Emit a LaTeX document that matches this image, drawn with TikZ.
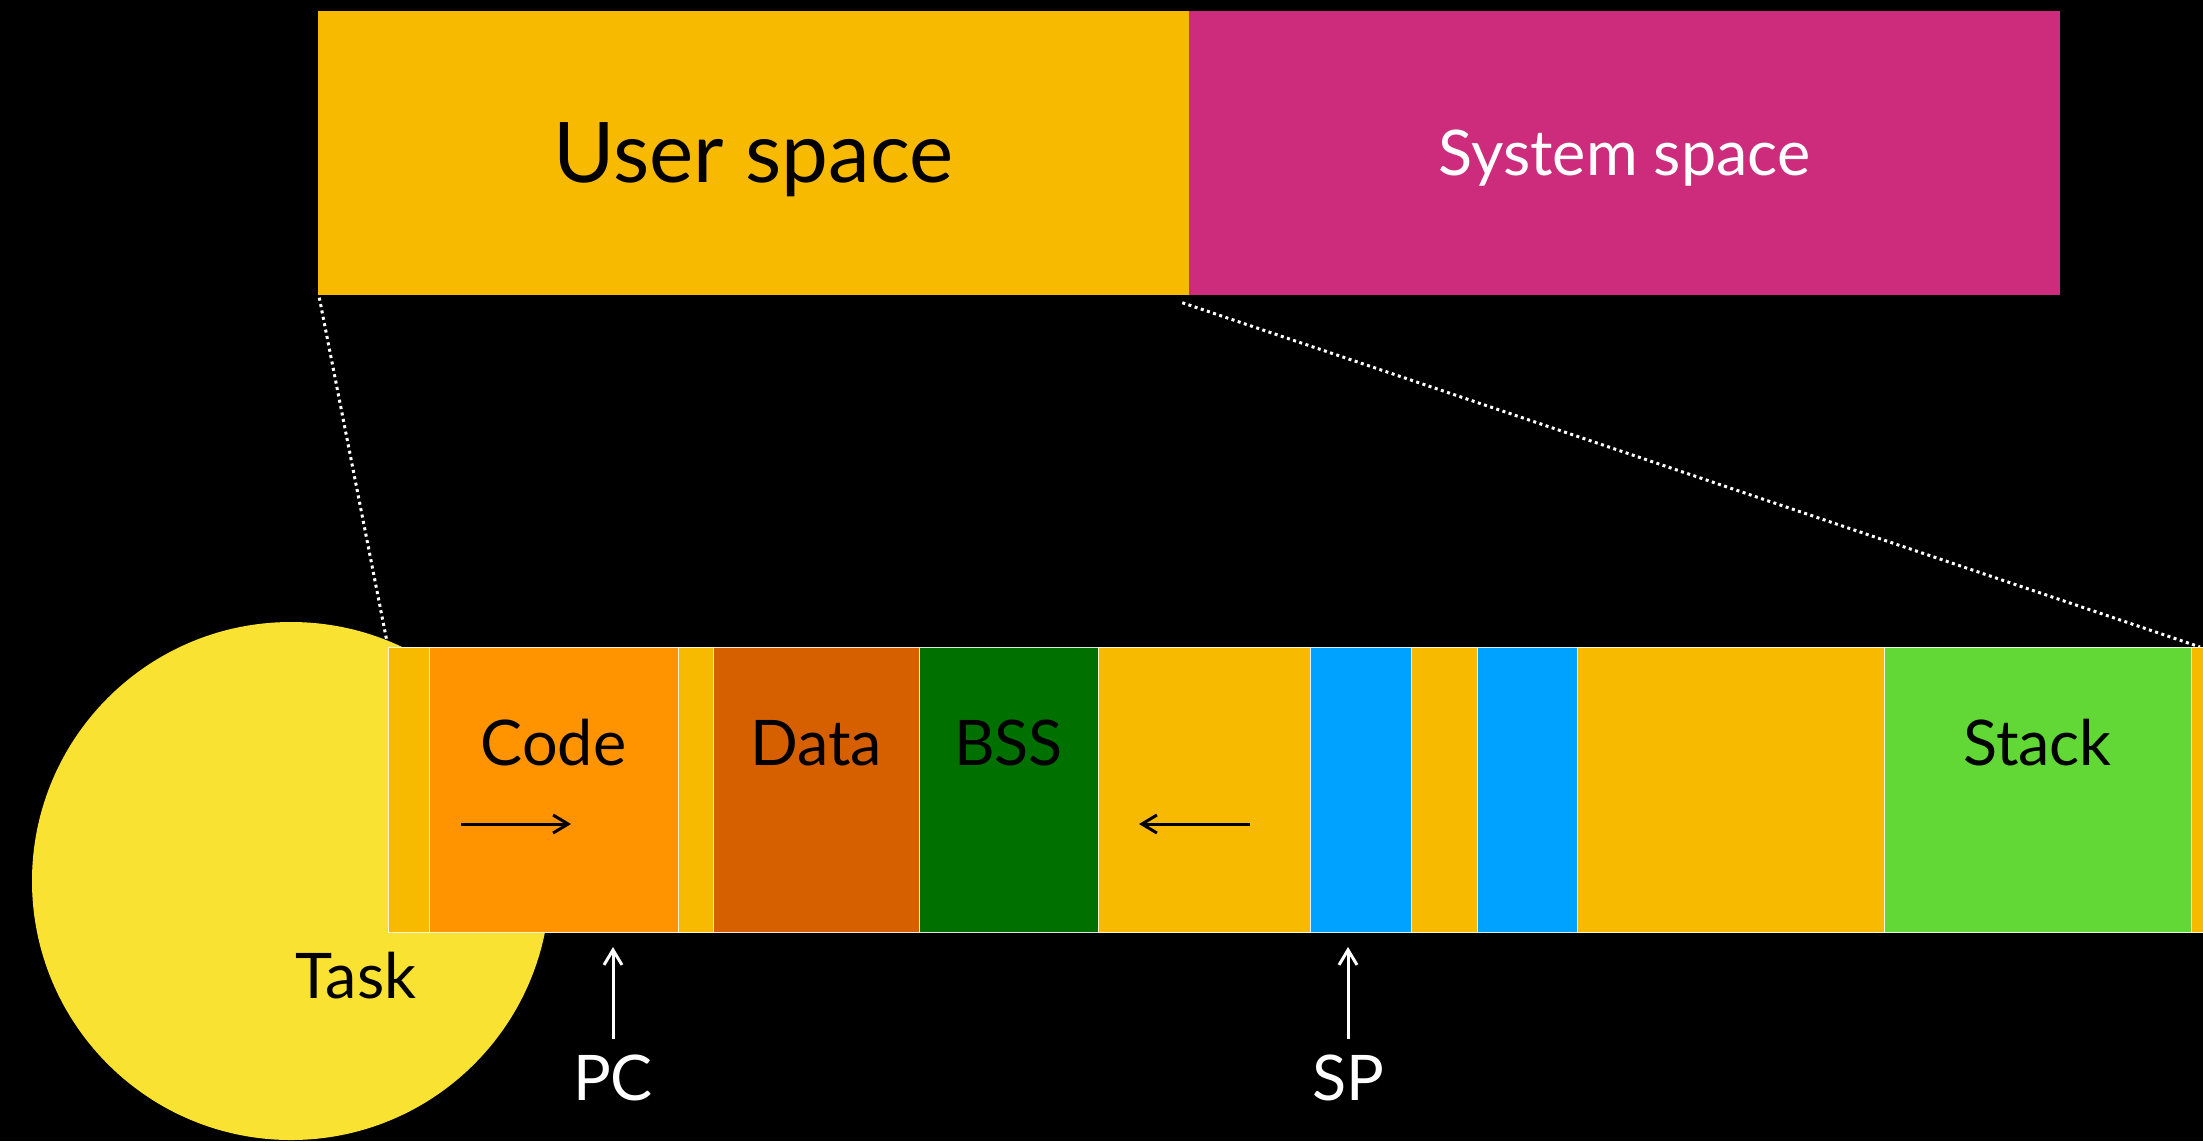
\documentclass[tikz,border=0pt]{standalone}
\usepackage{fontspec}
\setmainfont{Lato}
\usetikzlibrary{calc,arrows.meta,shapes}
\definecolor{amber}{RGB}{248,186,0}
\definecolor{plum}{RGB}{205,44,124}
\definecolor{codeorange}{RGB}{255,147,0}
\definecolor{datarust}{RGB}{214,95,0}
\definecolor{bssgreen}{RGB}{0,113,0}
\definecolor{sky}{RGB}{0,162,255}
\definecolor{stackgreen}{RGB}{97,216,54}
\definecolor{sun}{RGB}{250,226,50}
\newcommand\memblock[5]{% name, start, end, colour, label
\filldraw[fill=#4,draw=white!85!#4,line width=0.1mm] (#2,647) rectangle (#3,932);
\node (#1) at ({(#2+#3)/2},765) [tag] {#5};}

\begin{document}
\begin{tikzpicture}[x=0.1mm,y=-0.1mm,font=\fontsize{17.9}{21}\selectfont,
    tag/.style={anchor=base,inner sep=0pt},
    half/.style={minimum width=87.1mm,minimum height=28.4mm,inner sep=0pt,text depth=0pt},
    ptr/.style={line width=0.3mm,-{Straight Barb[length=1.5mm,width=1.8mm]}},
    zoomline/.style={white,line width=0.3mm,dash pattern=on 0.3mm off 0.35mm}]
      \fill[black] (0,0) rectangle (2203,1141);
      \useasboundingbox (0,0) rectangle (2203,1141);

      % address space
      \node (user) at (753.5,153) [half,fill=amber,font=\fontsize{23.8}{27}\selectfont] {User space};
      \node (system) at (1624.5,153) [half,fill=plum,text=white] {System space};

      \coordinate (memtl) at (388,647);
      \coordinate (memtr) at (2200,647);
      \coordinate (membot) at (388,932);
      \draw[zoomline] ($(user.south west)+(2,2)$) -- (memtl);
      \draw[zoomline] ($(system.south west)+(-6,7)$) -- (memtr);

      \node (task) at (291,881) [circle,fill=sun,minimum size=51.8mm,inner sep=0pt] {};

      % user space of the task
      \memblock{gap1}{388}{429}{amber}{}
      \memblock{code}{429}{678}{codeorange}{Code}
      \memblock{gap2}{678}{713}{amber}{}
      \memblock{data}{713}{919}{datarust}{Data}
      \memblock{bss}{919}{1098}{bssgreen}{BSS}
      \memblock{free1}{1098}{1310}{amber}{}
      \memblock{map1}{1310}{1411}{sky}{}
      \memblock{free2}{1411}{1477}{amber}{}
      \memblock{map2}{1477}{1577}{sky}{}
      \memblock{free3}{1577}{1884}{amber}{}
      \memblock{stack}{1884}{2191}{stackgreen}{Stack}
      \memblock{gap3}{2191}{2215}{amber}{}

      \coordinate (codefrom) at (461,824);
      \coordinate (codeto) at (571,824);
      \coordinate (freefrom) at (1250,824);
      \coordinate (freeto) at (1139,824);
      \draw[ptr] (codefrom) -- (codeto);
      \draw[ptr] (freefrom) -- (freeto);

      \node (tasklabel) at (356,998) [tag] {Task};
      \node (pc) at (613,1100) [tag,text=white] {PC};
      \node (sp) at (1348,1100) [tag,text=white] {SP};
      \draw[ptr,white,shorten <=1.5mm,shorten >=1.5mm] (pc.north) -- (pc.north |- membot);
      \draw[ptr,white,shorten <=1.5mm,shorten >=1.5mm] (sp.north) -- (sp.north |- membot);
\end{tikzpicture}
\end{document}
